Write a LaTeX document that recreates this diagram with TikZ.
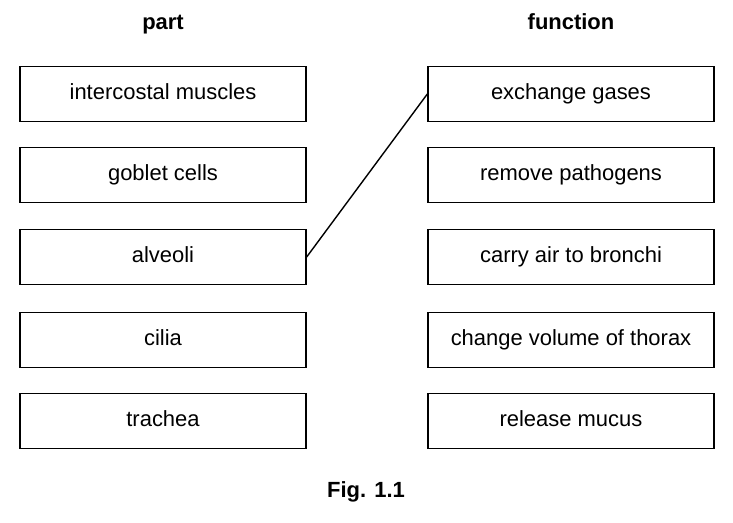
\documentclass[tikz,border=0pt]{standalone}
\usepackage{fontspec}
\setmainfont{Liberation Sans}
\usetikzlibrary{positioning}
\begin{document}
\begin{tikzpicture}[x=0.02cm,y=-0.02cm]
            \tikzset{box/.style = {shape=rectangle,draw,line width=0.8pt,minimum width=5.72cm,minimum height=1.1cm,text height=1.5ex,text depth=.3ex,font=\fontsize{12.5}{14}\selectfont}}
            \tikzset{head/.style = {text height=1.5ex,text depth=.3ex,font=\fontsize{12.5}{14}\selectfont\bfseries}}
            \useasboundingbox (0,0) rectangle (733,523);
            % headings
            \node[head] (part) at (163,24) {part};
            \node[head] (function) at (571,24) {function};
            % parts
            \node[box] (p1) at (163,94) {intercostal muscles};
            \node[box] (p2) at (163,175) {goblet cells};
            \node[box] (p3) at (163,257) {alveoli};
            \node[box] (p4) at (163,340) {cilia};
            \node[box] (p5) at (163,421) {trachea};
            % functions
            \node[box] (f1) at (571,94) {exchange gases};
            \node[box] (f2) at (571,175) {remove pathogens};
            \node[box] (f3) at (571,257) {carry air to bronchi};
            \node[box] (f4) at (571,340) {change volume of thorax};
            \node[box] (f5) at (571,421) {release mucus};
            % link
            \draw[line width=0.8pt] (p3.east) -- (f1.west);
            \node[head] (caption) at (366,492) {Fig. 1.1};
        \end{tikzpicture}
\end{document}
